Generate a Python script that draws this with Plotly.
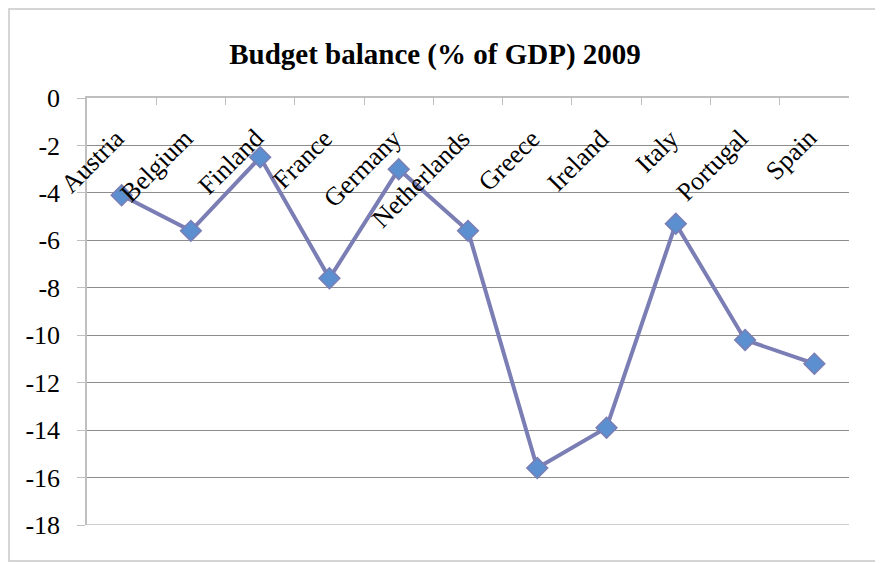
import plotly.graph_objects as go

countries = ["Austria", "Belgium", "Finland", "France", "Germany", "Netherlands",
             "Greece", "Ireland", "Italy", "Portugal", "Spain"]
balance = [-4.1, -5.6, -2.5, -7.6, -3.0, -5.6, -15.6, -13.9, -5.3, -10.2, -11.2]
y_ticks = [0, -2, -4, -6, -8, -10, -12, -14, -16, -18]
y_tick_labels = ["0", "-2", "-4", "-6", "-8", "-10", "-12", "-14", "-16", "-18"]
title_text = "Budget balance (% of GDP) 2009"

FONT = "Liberation Serif"
# the page adds an 8px body margin, so the figure is laid out 8px up/left
W, H = 875, 555
L, R, T, B = 79, 34, 90, 38

fig = go.Figure()
fig.add_trace(go.Scatter(
    x=countries, y=balance, mode="lines+markers",
    line=dict(color="#7A7EB4", width=4),
    marker=dict(symbol="diamond", size=16, color="#5B8FCF",
                line=dict(color="#7A7EB4", width=1.5)),
    showlegend=False,
))

annotations = []
for c in countries:
    annotations.append(dict(
        x=c, y=0, xref="x", yref="y", text=c, showarrow=False,
        textangle=-45, xanchor="right", yanchor="top",
        xshift=11, yshift=-23,
        font=dict(family=FONT, size=26, color="black"),
    ))

pw, ph = W - L - R, H - T - B
def px(xv):
    return (xv - L) / pw
def py(yv):
    return (H - B - yv) / ph

fig.update_layout(
    width=W, height=H,
    margin=dict(l=L, r=R, t=T, b=B, pad=0),
    paper_bgcolor="white", plot_bgcolor="white",
    font=dict(family=FONT, size=26, color="black"),
    title=dict(text=f"<b>{title_text}</b>", x=427 / W, xanchor="center",
               y=1 - 46 / H, yanchor="middle",
               font=dict(family=FONT, size=29, color="black")),
    xaxis=dict(
        type="category", range=[-0.5, len(countries) - 0.5],
        side="top", showline=True, linecolor="#BFBFBF", linewidth=1.5,
        ticks="inside", ticklen=7, tickcolor="#BFBFBF", tickson="boundaries",
        showticklabels=False, showgrid=False, zeroline=False,
    ),
    yaxis=dict(
        range=[-18, 0], tickvals=y_ticks, ticktext=y_tick_labels,
        showline=True, linecolor="#BFBFBF", linewidth=1.5,
        ticks="outside", ticklen=8, tickcolor="#BFBFBF",
        showgrid=True, gridcolor="#8C8C8C", gridwidth=1, zeroline=False,
        tickfont=dict(family=FONT, size=26, color="black"),
        ticklabelstandoff=12,
    ),
    annotations=annotations,
    shapes=[
        dict(type="line", xref="paper", yref="y", x0=0, x1=1,
             y0=y_ticks[-1], y1=y_ticks[-1],
             line=dict(color="#BFBFBF", width=1.5)),
        dict(type="rect", xref="paper", yref="paper",
             x0=px(1), x1=px(873), y0=py(1), y1=py(553),
             line=dict(color="#C8C8C8", width=1.5), layer="below"),
    ],
)

fig.write_html("out.html")
